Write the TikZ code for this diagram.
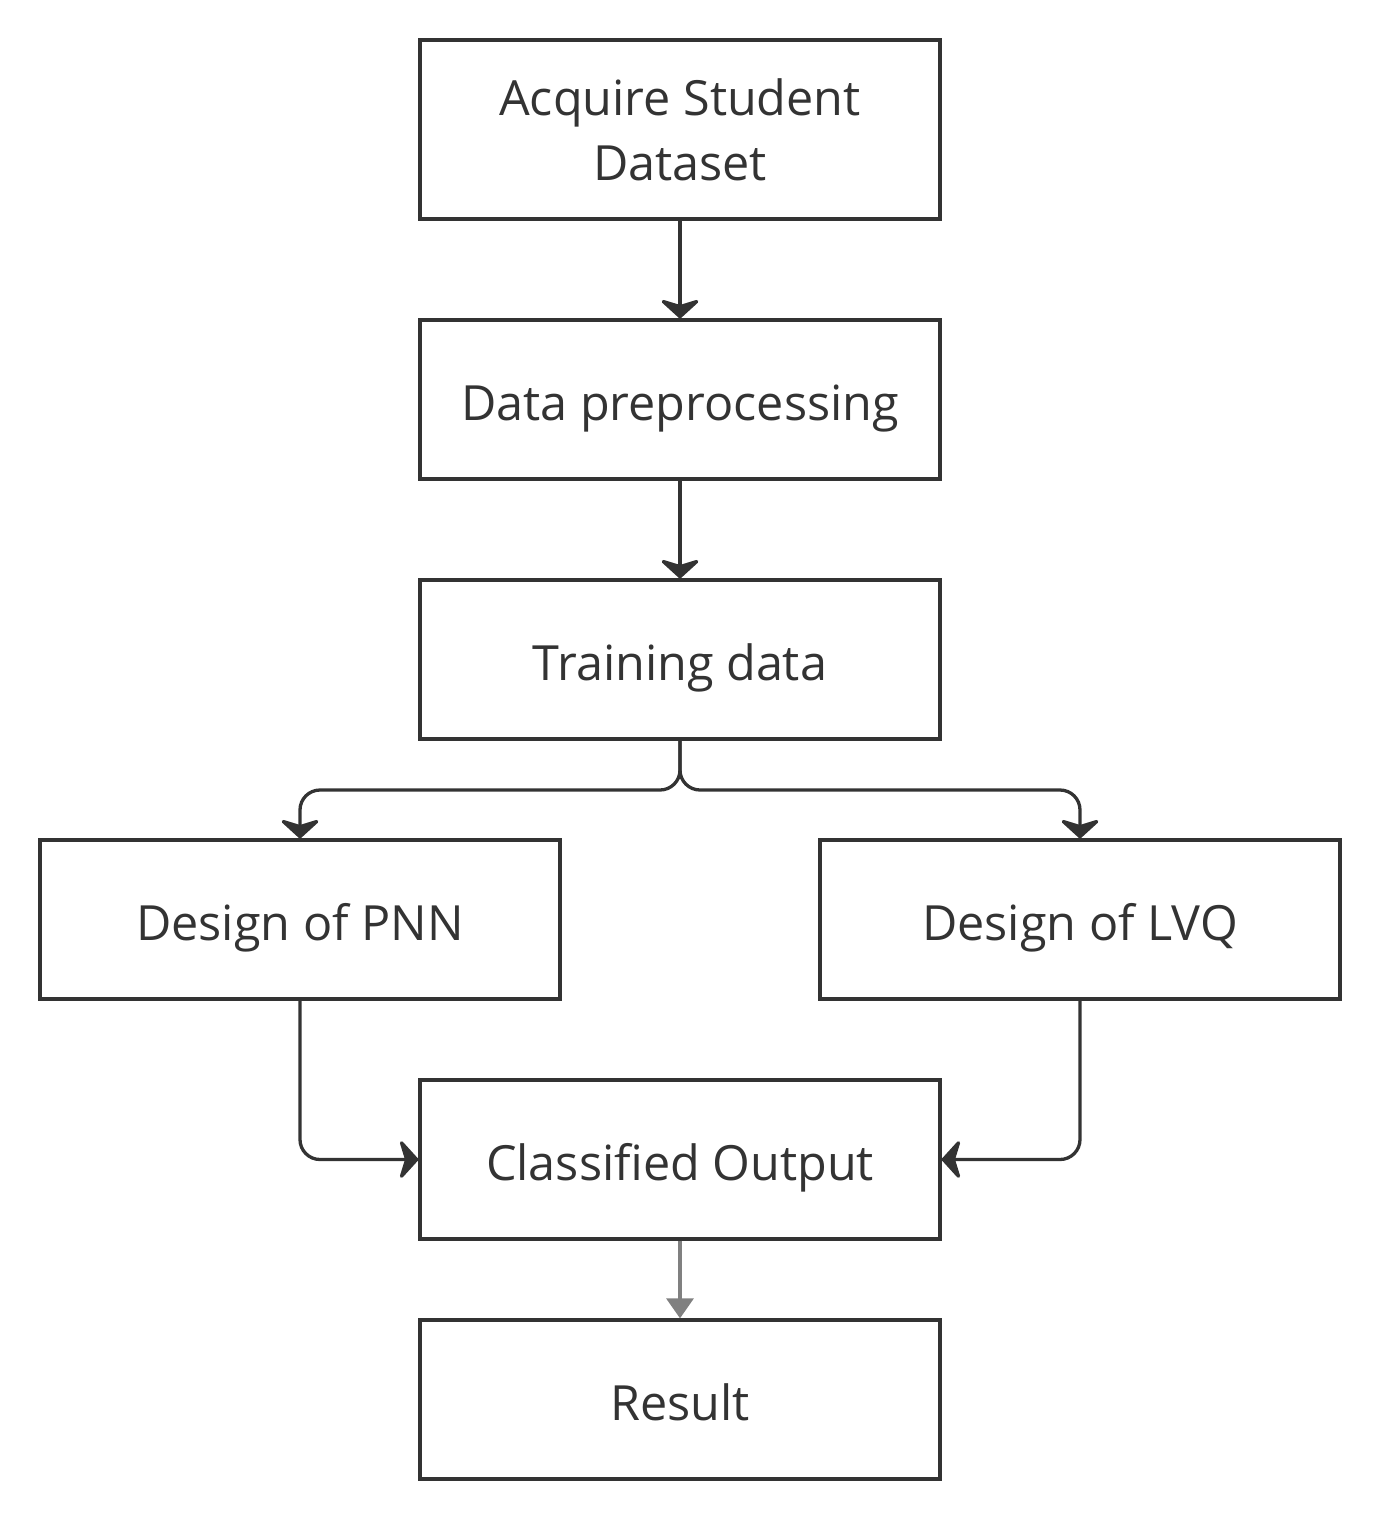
\documentclass[tikz,border=0pt]{standalone}
\usepackage{fontspec}
\setmainfont{Open Sans}
\usetikzlibrary{arrows.meta}
\definecolor{ink}{HTML}{333333}
\definecolor{greyline}{HTML}{808080}
\begin{document}
\begin{tikzpicture}[x=1pt,y=-1pt,
  box/.style={draw=ink,line width=3.3pt,minimum width=520pt,minimum height=159pt,inner sep=0pt,align=center,text=ink,font=\fontsize{48.5}{65}\selectfont},
  oneline/.style={text height=43pt,text depth=2pt},
  conn/.style={draw=ink,line width=3.3pt,rounded corners=20pt,-{Stealth[length=21pt,width=46pt,inset=7pt,round]}},
  gconn/.style={draw=greyline,line width=3.3pt,-{Triangle[length=20pt,width=27pt]}}]
\useasboundingbox (0,0) rectangle (1380,1521);
\node[box,minimum height=179pt] (acq) at (680,129.5) {Acquire Student\\Dataset};
\node[box,oneline] (pre) at (680,399.5) {Data preprocessing};
\node[box,oneline] (train) at (680,659.5) {Training data};
\node[box,oneline] (pnn) at (300,919.5) {Design of PNN};
\node[box,oneline] (lvq) at (1080,919.5) {Design of LVQ};
\node[box,oneline] (out) at (680,1159.5) {Classified Output};
\node[box,oneline] (res) at (680,1399.5) {Result};
\coordinate (split) at (680,790);
\draw[conn] (acq) -- (pre);
\draw[conn] (pre) -- (train);
\draw[conn] (train.south) -- (split) -| (pnn.north);
\draw[conn] (train.south) -- (split) -| (lvq.north);
\draw[conn] (pnn.south) |- (out.west);
\draw[conn] (lvq.south) |- (out.east);
\draw[gconn] (out) -- (res);
\end{tikzpicture}
\end{document}
